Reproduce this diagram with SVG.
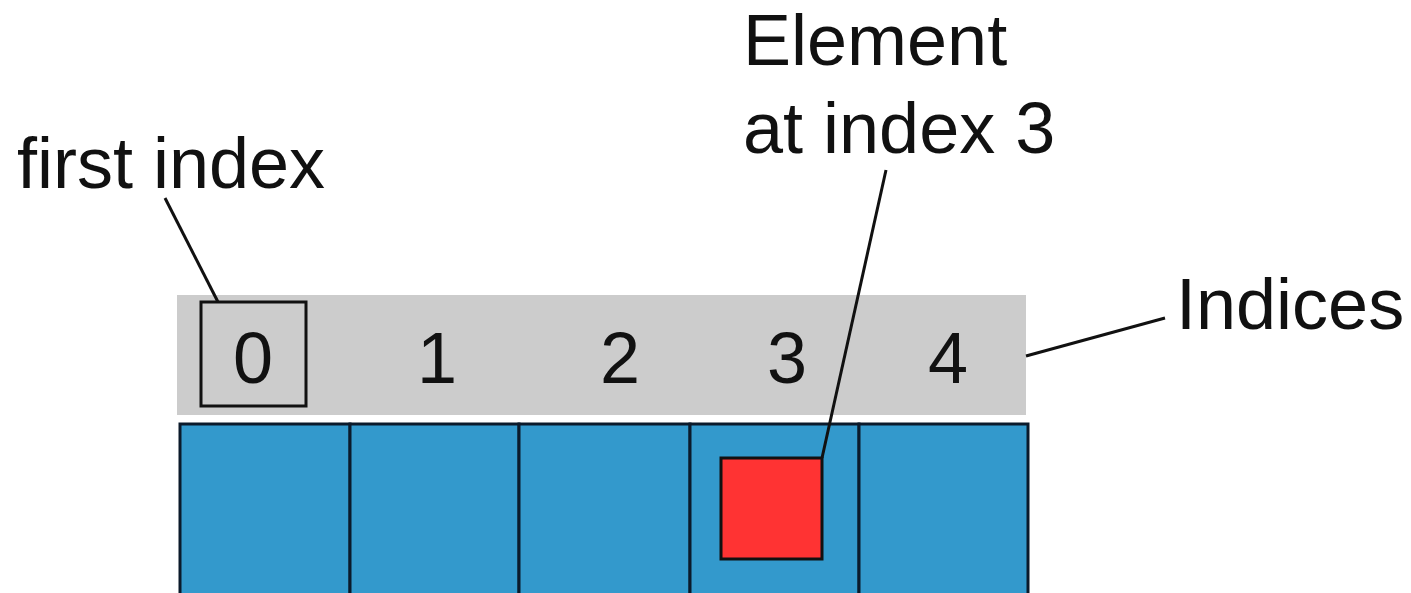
<svg xmlns="http://www.w3.org/2000/svg" width="1411" height="593" viewBox="0 0 1411 593">
<style>
.t{font-family:"Liberation Sans",Arial,sans-serif;font-size:72px;fill:#111}
.d{text-anchor:middle}
.cell{fill:#3399cc;stroke:#0b1a2b;stroke-width:3}
.ln{stroke:#111;stroke-width:3;fill:none}
</style>
<rect width="1411" height="593" fill="#fff"/>
<g id="indices">
<rect x="177" y="295" width="849" height="120" fill="#cccccc"/>
<rect id="first-box" x="201" y="302" width="105" height="104" fill="#cccccc" stroke="#111" stroke-width="3"/>
<text class="t d" x="253" y="383">0</text>
<text class="t d" x="437" y="383">1</text>
<text class="t d" x="620" y="383">2</text>
<text class="t d" x="787" y="383">3</text>
<text class="t d" x="948" y="383">4</text>
</g>
<g id="array">
<rect class="cell" x="180" y="424" width="170" height="172"/>
<rect class="cell" x="350" y="424" width="169" height="172"/>
<rect class="cell" x="519" y="424" width="171" height="172"/>
<rect class="cell" x="690" y="424" width="169" height="172"/>
<rect class="cell" x="859" y="424" width="169" height="172"/>
</g>
<g id="element">
<rect x="721" y="458" width="101" height="101" fill="#ff3333" stroke="#111" stroke-width="3"/>
</g>
<g id="label-first"><text class="t" x="17" y="188">first index</text></g>
<g id="label-element"><text class="t" x="743" y="65">Element</text><text class="t" x="743" y="153">at index 3</text></g>
<g id="label-indices"><text class="t" x="1176" y="329">Indices</text></g>
<g id="connectors">
<line class="ln" x1="165" y1="198" x2="218" y2="302"/>
<line class="ln" x1="886" y1="170" x2="822" y2="458"/>
<line class="ln" x1="1026" y1="356" x2="1165" y2="318"/>
</g>
</svg>
